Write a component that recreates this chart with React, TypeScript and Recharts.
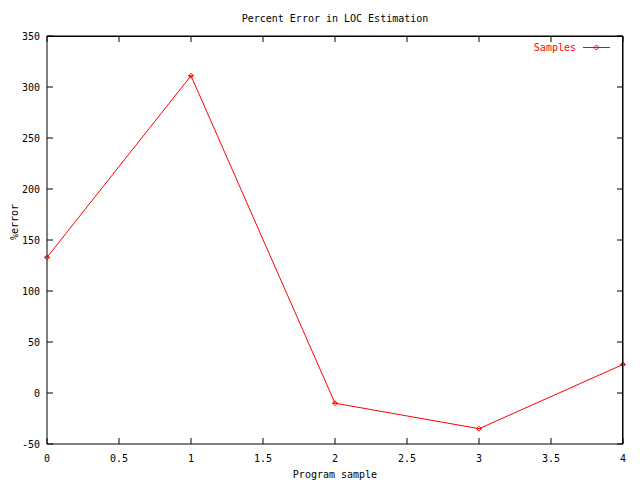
import { Line, LineChart, ReferenceLine, XAxis, YAxis } from 'recharts';

const samples = [0, 1, 2, 3, 4];
const percentError = [133, 311, -10, -35, 28];
const xTicks = [0, 0.5, 1, 1.5, 2, 2.5, 3, 3.5, 4];
const yTicks = [-50, 0, 50, 100, 150, 200, 250, 300, 350];

const chartData = samples.map((x, i) => ({ x, y: percentError[i] }));

const FONT = '"DejaVu Sans Mono", monospace';
const TICK = 6;
const PLOT_LEFT = 47;
const PLOT_TOP = 36;
const PLOT_RIGHT = 623;
const PLOT_BOTTOM = 444;

// bottom tick also draws its mirror tick on the top border
function BottomTick(props: any) {
  const { x, y, payload } = props;
  return (
    <g>
      <line x1={x} y1={y} x2={x} y2={y - TICK} stroke="#000" strokeWidth={1} />
      <line x1={x} y1={PLOT_TOP} x2={x} y2={PLOT_TOP + TICK} stroke="#000" strokeWidth={1} />
      <text x={x} y={y + 18} textAnchor="middle" fontFamily={FONT} fontSize={10} fill="#000">
        {payload.value}
      </text>
    </g>
  );
}

// left tick also draws its mirror tick on the right border
function LeftTick(props: any) {
  const { x, y, payload } = props;
  return (
    <g>
      <line x1={x} y1={y} x2={x + TICK} y2={y} stroke="#000" strokeWidth={1} />
      <line x1={PLOT_RIGHT} y1={y} x2={PLOT_RIGHT - TICK} y2={y} stroke="#000" strokeWidth={1} />
      <text x={x - 7} y={y + 4} textAnchor="end" fontFamily={FONT} fontSize={10} fill="#000">
        {payload.value}
      </text>
    </g>
  );
}

function Marker({ cx, cy }: any) {
  if (cx == null || cy == null) return null;
  return (
    <g stroke="#ff0000" fill="none">
      <path d={`M${cx - 2.5},${cy} L${cx},${cy - 2.5} L${cx + 2.5},${cy} L${cx},${cy + 2.5} Z`} />
      <line x1={cx - 2.5} y1={cy} x2={cx + 2.5} y2={cy} />
    </g>
  );
}

export default function App() {
  return (
    <div style={{ position: 'fixed', left: 0, top: 0, width: 640, height: 480, background: '#fff' }}>
      <div
        style={{
          position: 'absolute',
          left: 0,
          top: 13,
          width: 670,
          textAlign: 'center',
          fontFamily: FONT,
          fontSize: 10,
          color: '#000',
        }}
      >
        Percent Error in LOC Estimation
      </div>
      <LineChart
        width={640}
        height={480}
        data={chartData}
        margin={{ top: 36, right: 17, left: 0, bottom: 0 }}
        style={{ position: 'absolute', left: 0, top: 0 }}
      >
        <XAxis
          dataKey="x"
          type="number"
          domain={[0, 4]}
          ticks={xTicks}
          height={36}
          tickSize={0}
          tickMargin={0}
          tickLine={false}
          tick={BottomTick}
          axisLine={{ stroke: '#000' }}
          interval={0}
          label={{ value: 'Program sample', position: 'insideBottom', offset: 2, fill: '#000', fontFamily: FONT, fontSize: 10 }}
        />
        <YAxis
          type="number"
          domain={[-50, 350]}
          ticks={yTicks}
          width={47}
          tickSize={0}
          tickMargin={0}
          tickLine={false}
          tick={LeftTick}
          axisLine={{ stroke: '#000' }}
          interval={0}
          label={{ value: '%error', angle: -90, position: 'insideLeft', offset: 14, fill: '#000', fontFamily: FONT, fontSize: 10 }}
        />
        <ReferenceLine y={350} stroke="#000" strokeWidth={1} ifOverflow="visible" />
        <ReferenceLine x={4} stroke="#000" strokeWidth={1} ifOverflow="visible" />
        <Line
          dataKey="y"
          name="Samples"
          stroke="#ff0000"
          strokeWidth={1}
          dot={<Marker />}
          activeDot={false}
          isAnimationActive={false}
        />
      </LineChart>
      {/* frame (top and right edges) and legend overlay */}
      <svg
        width={640}
        height={480}
        style={{ position: 'absolute', left: 0, top: 0, zIndex: 2, pointerEvents: 'none' }}
      >
        <polyline
          points={`${PLOT_LEFT},${PLOT_TOP + 0.5} ${PLOT_RIGHT - 0.5},${PLOT_TOP + 0.5} ${PLOT_RIGHT - 0.5},${PLOT_BOTTOM}`}
          stroke="#000"
          strokeWidth={1}
          fill="none"
        />
        <text x={576} y={51} textAnchor="end" fontFamily={FONT} fontSize={10} fill="#ff0000">
          Samples
        </text>
        <line x1={583} y1={47.5} x2={610} y2={47.5} stroke="#ff0000" strokeWidth={1} />
        <Marker cx={596.5} cy={47.5} />
      </svg>
    </div>
  );
}
